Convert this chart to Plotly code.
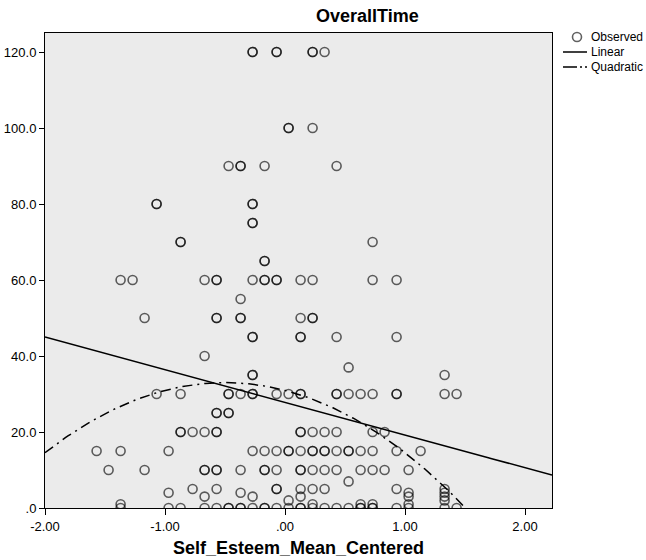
import plotly.graph_objects as go

# Observed points, grouped by OverallTime level (x = Self_Esteem_Mean_Centered)
x_at_120 = [-0.27, -0.27, -0.07, -0.07, 0.23, 0.23, 0.33]
x_at_100 = [0.03, 0.03, 0.23]
x_at_90 = [-0.47, -0.37, -0.37, -0.17, 0.43]
x_at_80 = [-1.07, -1.07, -0.27, -0.27]
x_at_75 = [-0.27, -0.27]
x_at_70 = [-0.87, -0.87, 0.73]
x_at_65 = [-0.17, -0.17]
x_at_60 = [-1.37, -1.27, -0.67, -0.57, -0.57, -0.27, -0.17, -0.17, -0.07, -0.07, 0.13, 0.23, 0.73, 0.93]
x_at_55 = [-0.37]
x_at_50 = [-1.17, -0.57, -0.57, -0.37, -0.37, 0.13, 0.23, 0.23]
x_at_45 = [-0.27, -0.27, 0.13, 0.13, 0.43, 0.93]
x_at_40 = [-0.67]
x_at_37 = [0.53]
x_at_35 = [-0.27, -0.27, 1.33]
x_at_30 = [-1.07, -0.87, -0.47, -0.47, -0.37, -0.27, -0.27, -0.07, 0.03, 0.13, 0.13,
           0.43, 0.43, 0.53, 0.63, 0.73, 0.93, 0.93, 1.33, 1.43]
x_at_25 = [-0.57, -0.57, -0.47, -0.47]
x_at_20 = [-0.87, -0.87, -0.77, -0.67, -0.57, -0.57, 0.13, 0.13, 0.23, 0.33, 0.43, 0.73, 0.83]
x_at_15 = [-1.57, -1.37, -0.97, -0.27, -0.17, -0.07, 0.03, 0.03, 0.13, 0.23, 0.23, 0.33, 0.33,
           0.43, 0.53, 0.53, 0.63, 0.73, 0.93, 1.13]
x_at_10 = [-1.47, -1.17, -0.67, -0.67, -0.57, -0.57, -0.37, -0.17, -0.17, -0.07, 0.13, 0.13,
           0.23, 0.33, 0.43, 0.63, 0.73, 0.83, 1.03]
x_at_7 = [0.53]
x_at_5 = [-0.77, -0.57, -0.07, -0.07, 0.13, 0.23, 0.33, 0.93, 1.33]
x_at_4 = [-0.97, -0.37, 1.03, 1.33]
x_at_3 = [-0.67, -0.27, 0.13, 1.03, 1.33]
x_at_2 = [0.03, 1.33]
x_at_1 = [-1.37, 0.23, 0.63, 0.73, 1.03]
x_at_0 = [-1.37, -0.97, -0.87, -0.67, -0.57, -0.47, -0.47, -0.37, -0.37, -0.27, -0.17, -0.17,
          -0.07, 0.03, 0.13, 0.13, 0.23, 0.33, 0.43, 0.53, 0.63, 0.63, 0.73, 0.73, 0.93,
          1.03, 1.33, 1.43]

levels = [120, 100, 90, 80, 75, 70, 65, 60, 55, 50, 45, 40, 37, 35, 30, 25, 20, 15, 10, 7, 5, 4, 3, 2, 1, 0]
level_x = [x_at_120, x_at_100, x_at_90, x_at_80, x_at_75, x_at_70, x_at_65, x_at_60, x_at_55,
           x_at_50, x_at_45, x_at_40, x_at_37, x_at_35, x_at_30, x_at_25, x_at_20, x_at_15,
           x_at_10, x_at_7, x_at_5, x_at_4, x_at_3, x_at_2, x_at_1, x_at_0]

# Fitted model coefficients
linear_coef = [27.8, -8.6]              # b0, b1
quadratic_coef = [30.95, -8.2, -8.2]    # b0, b1, b2

x_ticks = [-2, -1, 0, 1, 2]
x_tick_labels = ["-2.00", "-1.00", ".00", "1.00", "2.00"]
y_ticks = [0, 20, 40, 60, 80, 100, 120]
y_tick_labels = [".0", "20.0", "40.0", "60.0", "80.0", "100.0", "120.0"]
legend_names = ["Observed", "Linear", "Quadratic"]

obs_x, obs_y = [], []
for lv, xs in zip(levels, level_x):
    obs_x += xs
    obs_y += [lv] * len(xs)

x_min, x_max = -2.0, 2.225
n = 200
grid = [x_min + (x_max - x_min) * i / (n - 1) for i in range(n)]
lin_y = [linear_coef[0] + linear_coef[1] * g for g in grid]
quad_y = [quadratic_coef[0] + quadratic_coef[1] * g + quadratic_coef[2] * g * g for g in grid]

W, H = 646, 560
PL, PR, PT, PB = 45, 552, 33, 508          # plot area in page pixels
L, R, T, B = PL, W - PR, PT, H - PB
PW, PH = PR - PL, PB - PT
FONT = "Liberation Sans, Arial, sans-serif"
MARK = "rgba(0,0,0,0.62)"
DASH = "10px,5px,2px,5px"


def px(xs):
    return (xs - PL) / PW


def py(ys):
    return (PB - ys) / PH


fig = go.Figure()
fig.add_trace(go.Scatter(
    x=obs_x, y=obs_y, mode="markers", name=legend_names[0],
    marker=dict(symbol="circle-open", size=9, color=MARK, line=dict(width=1.6, color=MARK)),
))
fig.add_trace(go.Scatter(
    x=grid, y=lin_y, mode="lines", name=legend_names[1],
    line=dict(color="black", width=1.5),
))
fig.add_trace(go.Scatter(
    x=grid, y=quad_y, mode="lines", name=legend_names[2],
    line=dict(color="black", width=1.5, dash=DASH),
))

# Legend drawn compactly, as in the reference
leg_y = [37, 52, 67]
shapes = [
    dict(type="circle", xref="paper", yref="paper",
         x0=px(572.5), x1=px(581.5), y0=py(41.5), y1=py(32.5),
         line=dict(color=MARK, width=1.6)),
    dict(type="line", xref="paper", yref="paper",
         x0=px(563), x1=px(587), y0=py(leg_y[1]), y1=py(leg_y[1]),
         line=dict(color="black", width=1.5)),
    dict(type="line", xref="paper", yref="paper",
         x0=px(563), x1=px(587), y0=py(leg_y[2]), y1=py(leg_y[2]),
         line=dict(color="black", width=1.5, dash="14px,3px,2px,3px")),
]
annotations = [
    dict(text=name, xref="paper", yref="paper", x=px(589), y=py(yy),
         xanchor="left", yanchor="middle", showarrow=False,
         font=dict(family=FONT, size=12, color="black"))
    for name, yy in zip(legend_names, leg_y)
]
annotations.append(dict(text="<b>Self_Esteem_Mean_Centered</b>", xref="paper", yref="paper",
                        x=px(298), y=py(548), xanchor="center", yanchor="middle",
                        showarrow=False, font=dict(family=FONT, size=18, color="black")))
annotations.append(dict(text="<b>OverallTime</b>", xref="paper", yref="paper",
                        x=px(367), y=py(16), xanchor="center", yanchor="middle",
                        showarrow=False, font=dict(family=FONT, size=18, color="black")))

fig.update_layout(
    width=W, height=H,
    margin=dict(l=L, r=R, t=T, b=B, pad=0),
    paper_bgcolor="white",
    plot_bgcolor="#EBEBEB",
    font=dict(family=FONT, size=13, color="black"),
    showlegend=False,
    shapes=shapes,
    annotations=annotations,
    xaxis=dict(range=[x_min, x_max], tickvals=x_ticks, ticktext=x_tick_labels,
               showgrid=False, zeroline=False, showline=True, mirror=True,
               linecolor="black", linewidth=1, ticks="outside", ticklen=6,
               tickcolor="black", automargin=False),
    yaxis=dict(range=[0, 125], tickvals=y_ticks, ticktext=y_tick_labels,
               showgrid=False, zeroline=False, showline=True, mirror=True,
               linecolor="black", linewidth=1, ticks="outside", ticklen=5,
               tickcolor="black", automargin=False),
)

# Remove the default 8px page margin so the figure sits at the window's corner.
fig.write_html("out.html", config={"displayModeBar": False},
               post_script="document.body.style.margin='0px';")
